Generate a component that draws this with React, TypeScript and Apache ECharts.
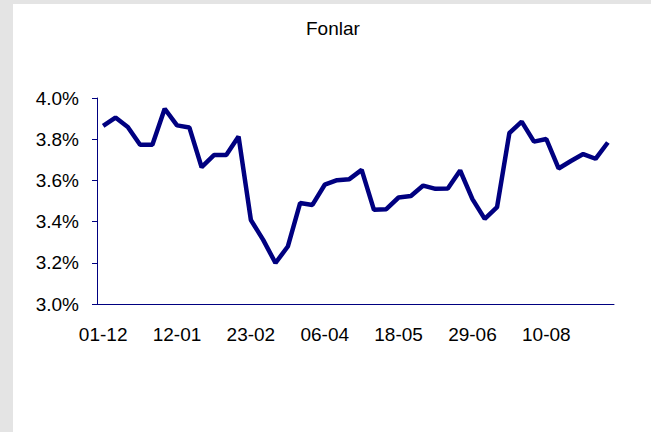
import React, { useEffect, useRef } from "react";
import * as echarts from "echarts";

const categories = [
  "01-12", "08-12", "15-12", "22-12", "29-12", "05-01", "12-01", "19-01", "26-01", "02-02",
  "09-02", "16-02", "23-02", "02-03", "09-03", "16-03", "23-03", "30-03", "06-04", "13-04",
  "20-04", "27-04", "04-05", "11-05", "18-05", "25-05", "01-06", "08-06", "15-06", "22-06",
  "29-06", "06-07", "13-07", "20-07", "27-07", "03-08", "10-08", "17-08", "24-08", "31-08",
  "07-09", "14-09",
];

const fonlar = [
  3.865, 3.905, 3.859, 3.773, 3.773, 3.948, 3.867, 3.857, 3.664, 3.723,
  3.723, 3.813, 3.408, 3.311, 3.199, 3.279, 3.490, 3.481, 3.579, 3.601,
  3.606, 3.651, 3.457, 3.460, 3.517, 3.524, 3.575, 3.559, 3.561, 3.648,
  3.509, 3.413, 3.470, 3.830, 3.885, 3.788, 3.801, 3.658, 3.694, 3.728,
  3.705, 3.784,
];

const yTicks = [3.0, 3.2, 3.4, 3.6, 3.8, 4.0];

const FONT = 'Arial, "Liberation Sans", sans-serif';

export default function App() {
  const ref = useRef<HTMLDivElement>(null);

  useEffect(() => {
    document.body.style.margin = "0";
    if (!ref.current) return;
    const chart = echarts.init(ref.current, undefined, { renderer: "svg" });
    chart.setOption({
      animation: false,
      backgroundColor: "#ffffff",
      title: {
        text: "Fonlar",
        left: 301,
        top: 14,
        textStyle: { fontFamily: FONT, fontSize: 19, fontWeight: "normal", color: "#000000" },
      },
      graphic: [
        { type: "rect", left: 0, top: 0, shape: { width: 13, height: 432 }, style: { fill: "#e4e4e4" }, silent: true },
        { type: "rect", left: 0, top: 0, shape: { width: 651, height: 4 }, style: { fill: "#e4e4e4" }, silent: true },
      ],
      grid: { left: 97, right: 37, top: 98, bottom: 128, containLabel: false },
      xAxis: {
        type: "category",
        data: categories,
        boundaryGap: true,
        axisLine: { lineStyle: { color: "#000080", width: 1 } },
        axisTick: { interval: 5, length: 6, lineStyle: { color: "#000080", width: 1 } },
        axisLabel: { interval: 5, margin: 21, fontFamily: FONT, fontSize: 19, color: "#000000" },
        splitLine: { show: false },
      },
      yAxis: {
        type: "value",
        min: yTicks[0],
        max: yTicks[yTicks.length - 1],
        interval: 0.2,
        axisLine: { show: true, lineStyle: { color: "#000080", width: 1 } },
        axisTick: { show: true, length: 5, lineStyle: { color: "#000080", width: 1 } },
        axisLabel: {
          margin: 18,
          fontFamily: FONT,
          fontSize: 19,
          color: "#000000",
          formatter: (v: number) => v.toFixed(1) + "%",
        },
        splitLine: { show: false },
      },
      series: [
        {
          type: "line",
          data: fonlar,
          symbol: "none",
          lineStyle: { color: "#000080", width: 4.5 },
          itemStyle: { color: "#000080" },
        },
      ],
    });
    return () => chart.dispose();
  }, []);

  return <div ref={ref} style={{ width: 651, height: 432 }} />;
}
